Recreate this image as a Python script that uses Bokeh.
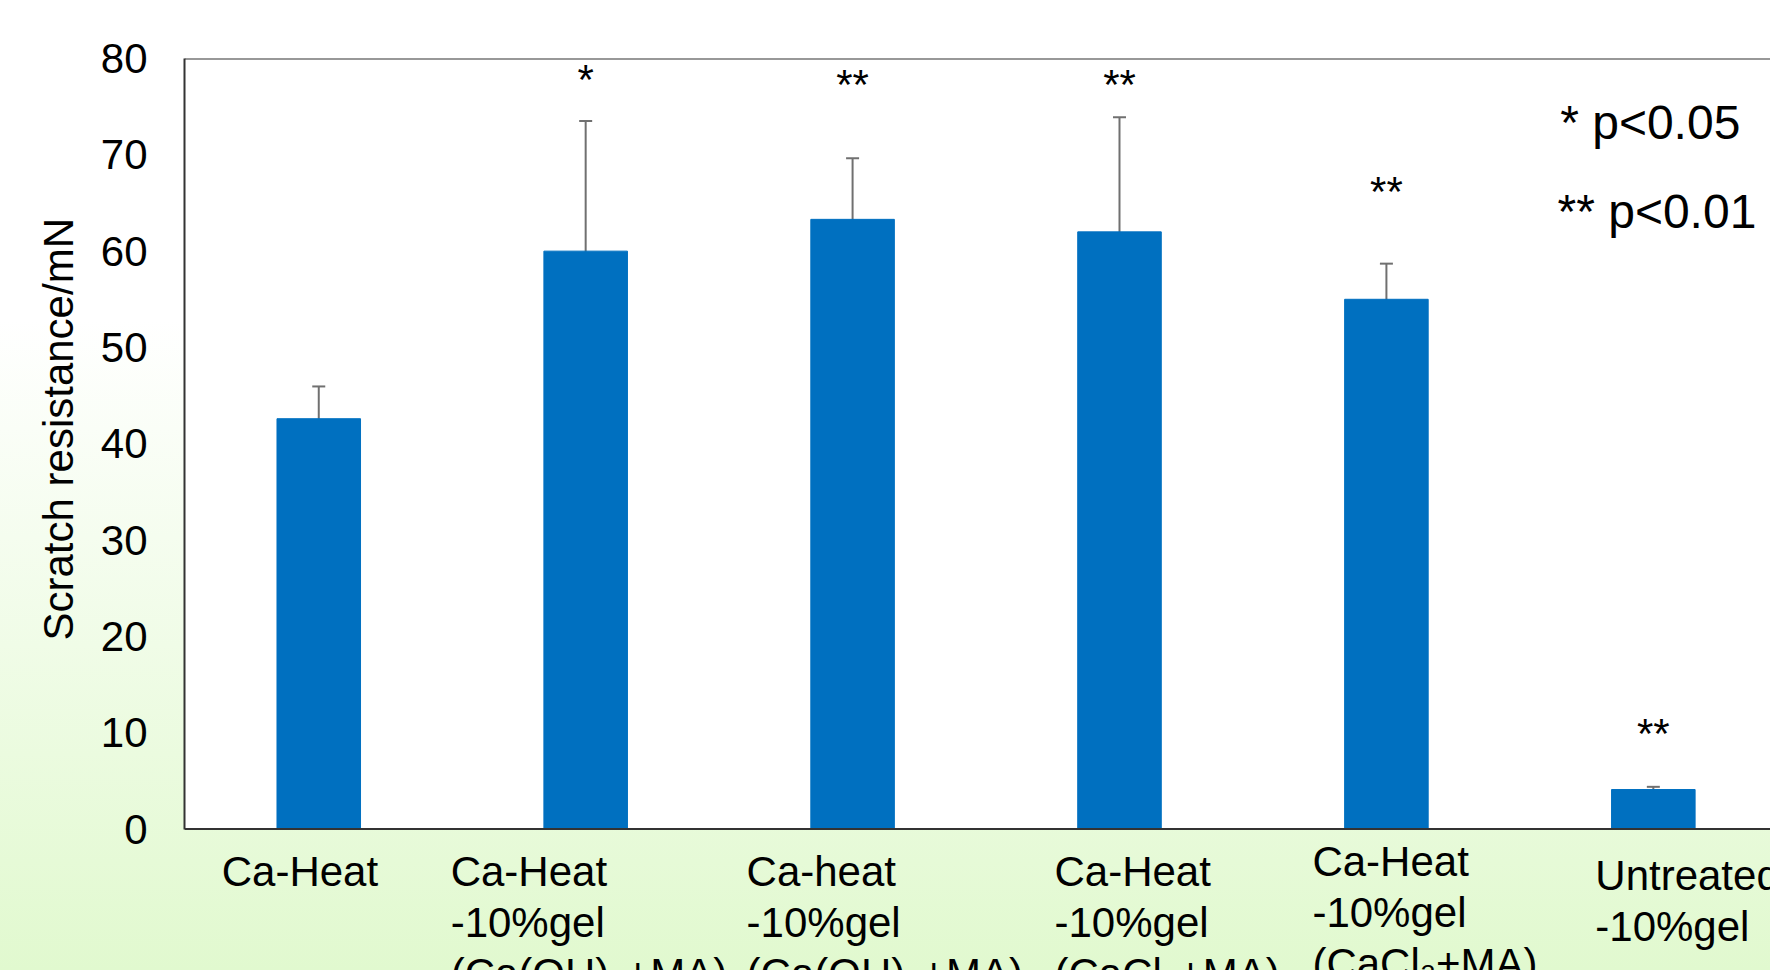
from bokeh.plotting import figure
from bokeh.models import (ColumnDataSource, Whisker, LabelSet, Label, Span,
                          FixedTicker, Range1d, TeeHead, BoxAnnotation, Title)
from bokeh.core.properties import value
from bokeh.embed import file_html
from bokeh.resources import INLINE

# ---------------- data ----------------
categories = [
    "Ca-Heat",
    "Ca-Heat\n-10%gel\n(Ca(OH)\u2082+MA)",
    "Ca-heat\n-10%gel\n(Ca(OH)\u2082+MA)",
    "Ca-Heat\n-10%gel\n(CaCl\u2082+MA)",
    "Ca-Heat\n-10%gel\n(CaCl\u2082+MA)",
    "Untreated\n-10%gel",
]
means = [42.6, 60.0, 63.3, 62.0, 55.0, 4.1]
errors = [3.35, 13.5, 6.35, 11.9, 3.7, 0.28]
significance = ["", "*", "**", "**", "**", "**"]
sig_label_y = [0, 76.3, 75.8, 75.8, 64.7, 8.4]
y_ticks = [0, 10, 20, 30, 40, 50, 60, 70, 80]
legend_lines = ["* p<0.05", "** p<0.01"]
y_label = "Scratch resistance/mN"

# ---------------- layout/style ----------------
FONT = "Liberation Sans"
label_dx = [-97, -135, -106, -65, -74, -58]          # px offset of label block from bar centre
label_top = [-1.95, -1.95, -1.95, -1.95, -0.9, -2.35]  # data units below the axis (top of text block)

xs = list(range(len(categories)))
src = ColumnDataSource(dict(
    x=xs,
    mean=means,
    upper=[m + e for m, e in zip(means, errors)],
    lower=[m - e for m, e in zip(means, errors)],
    sig=significance,
    sig_y=sig_label_y,
))
lab_src = ColumnDataSource(dict(x=xs, y=label_top, dx=label_dx, text=categories))

y_lo, y_hi = y_ticks[0], y_ticks[-1]
p = figure(width=1770, height=970, output_backend="svg", toolbar_location=None,
           x_range=Range1d(-0.503, 5.439), y_range=Range1d(-14.69, y_hi),
           min_border_left=184, min_border_top=58, min_border_bottom=0,
           min_border_right=0)
p.border_fill_color = None
p.background_fill_color = None
p.outline_line_color = None
p.grid.visible = False
p.xaxis.visible = False
p.styles = {"background": "linear-gradient(to bottom, #ffffff 0%, #ffffff 33%, #e1f9cf 100%)"}

# white plot area (0..80)
p.add_layout(BoxAnnotation(bottom=y_lo, top=y_hi, fill_color="white", fill_alpha=1.0,
                           line_color=None, level="underlay"))

p.vbar(x="x", top="mean", width=0.313, bottom=0, source=src,
       fill_color="#0070C0", line_color="#0070C0")

wcol = "#707070"
p.add_layout(Whisker(base="x", upper="upper", lower="lower", source=src,
                     line_color=wcol, line_width=2,
                     upper_head=TeeHead(size=13, line_color=wcol, line_width=2),
                     lower_head=TeeHead(size=13, line_color=wcol, line_width=2)))

# significance stars
p.add_layout(LabelSet(x="x", y="sig_y", text="sig", source=src,
                      text_align="center", text_baseline="alphabetic",
                      text_font=value(FONT), text_font_size=value("42px"),
                      text_color="black"))

# frame lines (top and bottom)
p.add_layout(Span(location=y_hi, dimension="width", line_color="#333333", line_width=2))
p.add_layout(Span(location=y_lo, dimension="width", line_color="#333333", line_width=2))

# y axis
yax = p.yaxis[0]
yax.ticker = FixedTicker(ticks=y_ticks)
yax.bounds = (y_lo, y_hi)
yax.axis_line_color = "#333333"
yax.axis_line_width = 2
yax.major_tick_line_color = None
yax.minor_tick_line_color = None
yax.major_label_standoff = 31
yax.major_label_text_font = FONT
yax.major_label_text_font_size = "42px"
yax.major_label_text_color = "black"

# y axis title (placed along the 0..80 part of the axis)
p.add_layout(Title(text=y_label, align="left", offset=330, standoff=32,
                   text_font=FONT, text_font_size="42px", text_font_style="normal",
                   text_color="black"), "left")

# category labels
p.add_layout(LabelSet(x="x", y="y", x_offset="dx", text="text", source=lab_src,
                      text_align="left", text_baseline="top",
                      text_font=value(FONT), text_font_size=value("42px"),
                      text_color="black", text_line_height=1.085))

# legend text
p.add_layout(Label(x=4.651, y=73.4, text=legend_lines[0], text_font=FONT,
                   text_font_size="48px", text_baseline="alphabetic", text_color="black"))
p.add_layout(Label(x=4.641, y=64.1, text=legend_lines[1], text_font=FONT,
                   text_font_size="48px", text_baseline="alphabetic", text_color="black"))

open("out.html", "w").write(file_html(p, INLINE))
